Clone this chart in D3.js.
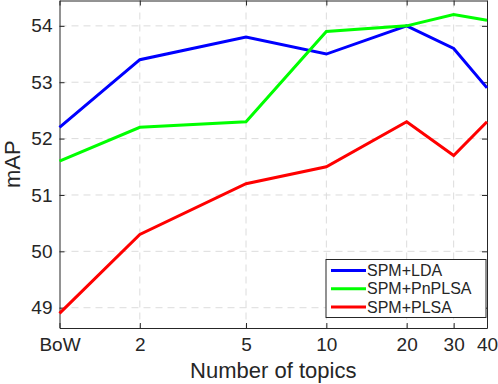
<!DOCTYPE html>
<meta charset="utf-8">
<title>mAP vs topics</title>
<script src="https://d3js.org/d3.v7.min.js"></script>
<style>
  body { margin: 0; background: #fff; }
  text { font-family: "Liberation Sans", Arial, sans-serif; fill: #262626; }
</style>
<body>
<div id="chart"></div>
<script>
  // categories and values
  var topics = ["BoW", "2", "5", "10", "20", "30", "40"];
  var topicPos = [1, 2, 5, 10, 20, 30, 40];   // BoW sits at 1 on the log axis
  var lda    = [52.2, 53.4, 53.8, 53.5, 54.0, 53.6, 52.9];
  var pnplsa = [51.6, 52.2, 52.3, 53.9, 54.0, 54.2, 54.1];
  var plsa   = [48.9, 50.3, 51.2, 51.5, 52.3, 51.7, 52.3];
  var yTicks = [49, 50, 51, 52, 53, 54];

  var series = [
    {name: "SPM+LDA", color: "#0000ff", values: lda},
    {name: "SPM+PnPLSA", color: "#00ff00", values: pnplsa},
    {name: "SPM+PLSA", color: "#ff0000", values: plsa}
  ];

  var margin = {top: 0.5, right: 11, bottom: 56, left: 59.5},
      W = 498, H = 384,
      width = W - margin.left - margin.right,
      height = H - margin.top - margin.bottom;

  var svg = d3.select("#chart").append("svg")
      .attr("width", W).attr("height", H)
    .append("g")
      .attr("transform", "translate(" + margin.left + "," + margin.top + ")");

  var x = d3.scaleLog().domain([1, 40]).range([0, width]);
  var y = d3.scaleLinear().domain([48.64, 54.45]).range([height, 0]);

  // dashed grid
  svg.append("g").selectAll("line").data(topicPos.slice(1, -1)).join("line")
    .attr("x1", d => x(d)).attr("x2", d => x(d))
    .attr("y1", 0).attr("y2", height)
    .attr("stroke", "#dcdcdc").attr("stroke-dasharray", "7,5");
  svg.append("g").selectAll("line").data(yTicks).join("line")
    .attr("x1", 0).attr("x2", width)
    .attr("y1", d => y(d)).attr("y2", d => y(d))
    .attr("stroke", "#dcdcdc").attr("stroke-dasharray", "7,5");

  // axes with inward ticks on all four sides
  svg.append("g")
    .attr("transform", "translate(0," + height + ")")
    .call(d3.axisBottom(x).tickValues(topicPos).tickFormat((d, i) => topics[i])
      .tickSizeInner(-5).tickSizeOuter(0).tickPadding(10));
  svg.append("g")
    .call(d3.axisTop(x).tickValues(topicPos).tickFormat("")
      .tickSizeInner(-5).tickSizeOuter(0));
  svg.append("g")
    .call(d3.axisLeft(y).tickValues(yTicks).tickFormat(d3.format("d"))
      .tickSizeInner(-5).tickSizeOuter(0).tickPadding(7));
  svg.append("g")
    .attr("transform", "translate(" + width + ",0)")
    .call(d3.axisRight(y).tickValues(yTicks).tickFormat("")
      .tickSizeInner(-5).tickSizeOuter(0));

  svg.selectAll(".domain").attr("stroke", "#262626");
  svg.selectAll(".tick line").attr("stroke", "#262626");
  svg.selectAll(".tick text").attr("font-size", 19)
    .attr("font-family", "Liberation Sans, Arial, sans-serif").attr("fill", "#262626");

  // lines
  var line = d3.line()
    .x((d, i) => x(topicPos[i]))
    .y(d => y(d));
  svg.append("g").selectAll("path").data(series).join("path")
    .attr("d", d => line(d.values))
    .attr("fill", "none")
    .attr("stroke", d => d.color)
    .attr("stroke-width", 3);

  // axis labels
  svg.append("text")
    .attr("x", width / 2).attr("y", height + 50)
    .attr("text-anchor", "middle")
    .attr("font-size", 22)
    .text("Number of topics");
  svg.append("text")
    .attr("transform", "translate(-40," + (height / 2) + ") rotate(-90)")
    .attr("text-anchor", "middle")
    .attr("font-size", 22)
    .text("mAP");

  // legend
  var legend = svg.append("g")
    .attr("transform", "translate(" + (326 - margin.left) + "," + (259.5 - margin.top) + ")");
  legend.append("rect")
    .attr("width", 160).attr("height", 58)
    .attr("fill", "#fff").attr("stroke", "#262626");
  var item = legend.selectAll("g").data(series).join("g")
    .attr("transform", (d, i) => "translate(0," + (11 + i * 18.3) + ")");
  item.append("line")
    .attr("x1", 5).attr("x2", 40)
    .attr("stroke", d => d.color).attr("stroke-width", 3);
  item.append("text")
    .attr("x", 41).attr("dy", "0.35em")
    .attr("font-size", 16)
    .text(d => d.name);
</script>
</body>
